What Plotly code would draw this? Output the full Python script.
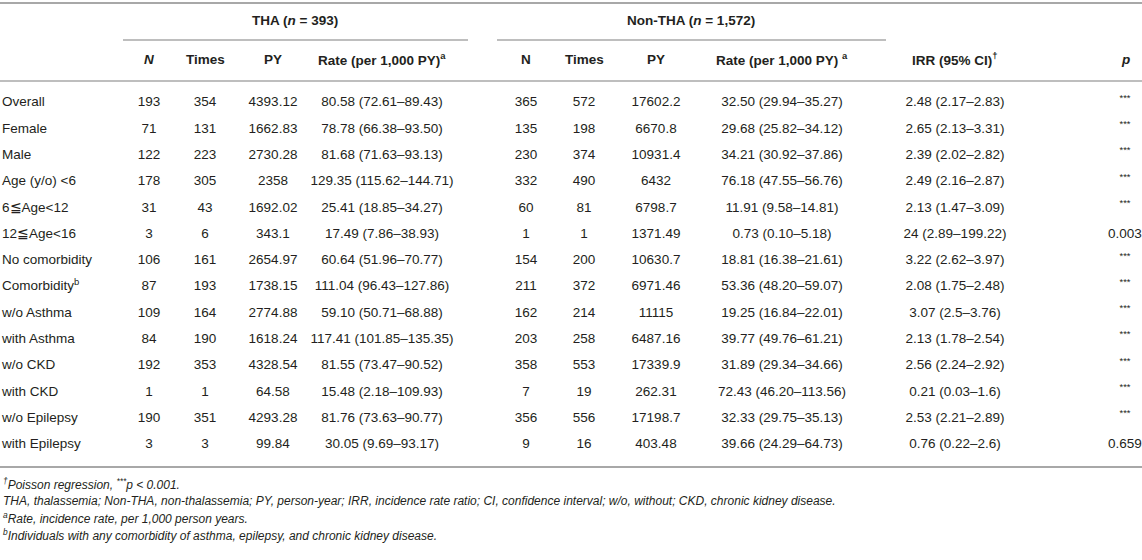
import plotly.graph_objects as go

# ---- table content ----
row_labels = ["Overall", "Female", "Male", "Age (y/o) &lt;6", "6≦Age&lt;12", "12≦Age&lt;16",
              "No comorbidity", "Comorbidity<sup>b</sup>", "w/o Asthma", "with Asthma",
              "w/o CKD", "with CKD", "w/o Epilepsy", "with Epilepsy"]

tha_n = [193, 71, 122, 178, 31, 3, 106, 87, 109, 84, 192, 1, 190, 3]
tha_times = [354, 131, 223, 305, 43, 6, 161, 193, 164, 190, 353, 1, 351, 3]
tha_py = [4393.12, 1662.83, 2730.28, 2358, 1692.02, 343.1, 2654.97, 1738.15,
          2774.88, 1618.24, 4328.54, 64.58, 4293.28, 99.84]
tha_rate = ["80.58 (72.61–89.43)", "78.78 (66.38–93.50)", "81.68 (71.63–93.13)",
            "129.35 (115.62–144.71)", "25.41 (18.85–34.27)", "17.49 (7.86–38.93)",
            "60.64 (51.96–70.77)", "111.04 (96.43–127.86)", "59.10 (50.71–68.88)",
            "117.41 (101.85–135.35)", "81.55 (73.47–90.52)", "15.48 (2.18–109.93)",
            "81.76 (73.63–90.77)", "30.05 (9.69–93.17)"]

non_n = [365, 135, 230, 332, 60, 1, 154, 211, 162, 203, 358, 7, 356, 9]
non_times = [572, 198, 374, 490, 81, 1, 200, 372, 214, 258, 553, 19, 556, 16]
non_py = [17602.2, 6670.8, 10931.4, 6432, 6798.7, 1371.49, 10630.7, 6971.46,
          11115, 6487.16, 17339.9, 262.31, 17198.7, 403.48]
non_rate = ["32.50 (29.94–35.27)", "29.68 (25.82–34.12)", "34.21 (30.92–37.86)",
            "76.18 (47.55–56.76)", "11.91 (9.58–14.81)", "0.73 (0.10–5.18)",
            "18.81 (16.38–21.61)", "53.36 (48.20–59.07)", "19.25 (16.84–22.01)",
            "39.77 (49.76–61.21)", "31.89 (29.34–34.66)", "72.43 (46.20–113.56)",
            "32.33 (29.75–35.13)", "39.66 (24.29–64.73)"]

irr = ["2.48 (2.17–2.83)", "2.65 (2.13–3.31)", "2.39 (2.02–2.82)", "2.49 (2.16–2.87)",
       "2.13 (1.47–3.09)", "24 (2.89–199.22)", "3.22 (2.62–3.97)", "2.08 (1.75–2.48)",
       "3.07 (2.5–3.76)", "2.13 (1.78–2.54)", "2.56 (2.24–2.92)", "0.21 (0.03–1.6)",
       "2.53 (2.21–2.89)", "0.76 (0.22–2.6)"]
p_vals = ["***", "***", "***", "***", "***", "0.003", "***", "***", "***", "***",
          "***", "***", "***", "0.659"]

col_heads = ["<i>N</i>", "Times", "PY", "Rate (per 1,000 PY)<sup>a</sup>",
             "N", "Times", "PY", "Rate (per 1,000 PY) <sup>a</sup>",
             "IRR (95% CI)<sup>†</sup>", "<i>p</i>"]

footnotes = [
    "<sup>†</sup>Poisson regression, <sup>***</sup>p &lt; 0.001.",
    "THA, thalassemia; Non-THA, non-thalassemia; PY, person-year; IRR, incidence rate ratio; "
    "CI, confidence interval; w/o, without; CKD, chronic kidney disease.",
    "<sup>a</sup>Rate, incidence rate, per 1,000 person years.",
    "<sup>b</sup>Individuals with any comorbidity of asthma, epilepsy, and chronic kidney disease.",
]

# ---- layout constants (pixels) ----
W, H = 1142, 560
FONT = "Liberation Sans, Arial, Helvetica, sans-serif"
INK = "#231f20"
RULE = "#a8a8a8"
SIZE = 13.5
col_x = [149, 205, 273, 382, 526, 584, 656, 782, 955, 1125]
row_y0, row_step = 103, 26.3
row_y = [row_y0 + i * row_step for i in range(len(row_labels))]

fig = go.Figure()

def text_col(x, vals, pos="middle center"):
    fig.add_trace(go.Scatter(
        x=[x] * len(vals), y=row_y, mode="text", text=vals,
        textposition=pos, textfont=dict(family=FONT, size=SIZE, color=INK),
        hoverinfo="skip", showlegend=False,
    ))

text_col(2, row_labels, "middle right")
columns = [tha_n, tha_times, tha_py, tha_rate, non_n, non_times, non_py, non_rate, irr,
           ["<sup>***</sup>" if p == "***" else p for p in p_vals]]
for x, vals in zip(col_x, columns):
    text_col(x, [str(v) for v in vals])

def note(x, y, t, size=SIZE, anchor="center"):
    fig.add_annotation(x=x, y=y, text=t, showarrow=False, xanchor=anchor,
                       font=dict(family=FONT, size=size, color=INK))

# header texts
note(295, 20, "<b>THA (<i>n</i> = 393)</b>")
note(691, 20, "<b>Non-THA (<i>n</i> = 1,572)</b>")
for x, t in zip(col_x, col_heads):
    note(x, 59, f"<b>{t}</b>")
for i, t in enumerate(footnotes):
    note(1, 484 + i * 17, f"<i>{t}</i>", size=12, anchor="left")

# rules
def rule(x0, x1, y, w=1.5):
    fig.add_shape(type="line", x0=x0, x1=x1, y0=y, y1=y, line=dict(color=RULE, width=w))

rule(0, W, 3, 2)
rule(123, 468, 40)
rule(497, 886, 40)
rule(0, W, 81)
rule(0, W, 467, 2)

fig.update_xaxes(range=[0, W], visible=False, fixedrange=True)
fig.update_yaxes(range=[H, 0], visible=False, fixedrange=True)
fig.update_layout(
    width=W, height=H, margin=dict(l=0, r=0, t=0, b=0),
    plot_bgcolor="#ffffff", paper_bgcolor="#ffffff",
    font=dict(family=FONT, color=INK, size=SIZE),
)

fig.write_html("out.html", config={"displayModeBar": False},
               post_script="document.body.style.margin='0px';")
